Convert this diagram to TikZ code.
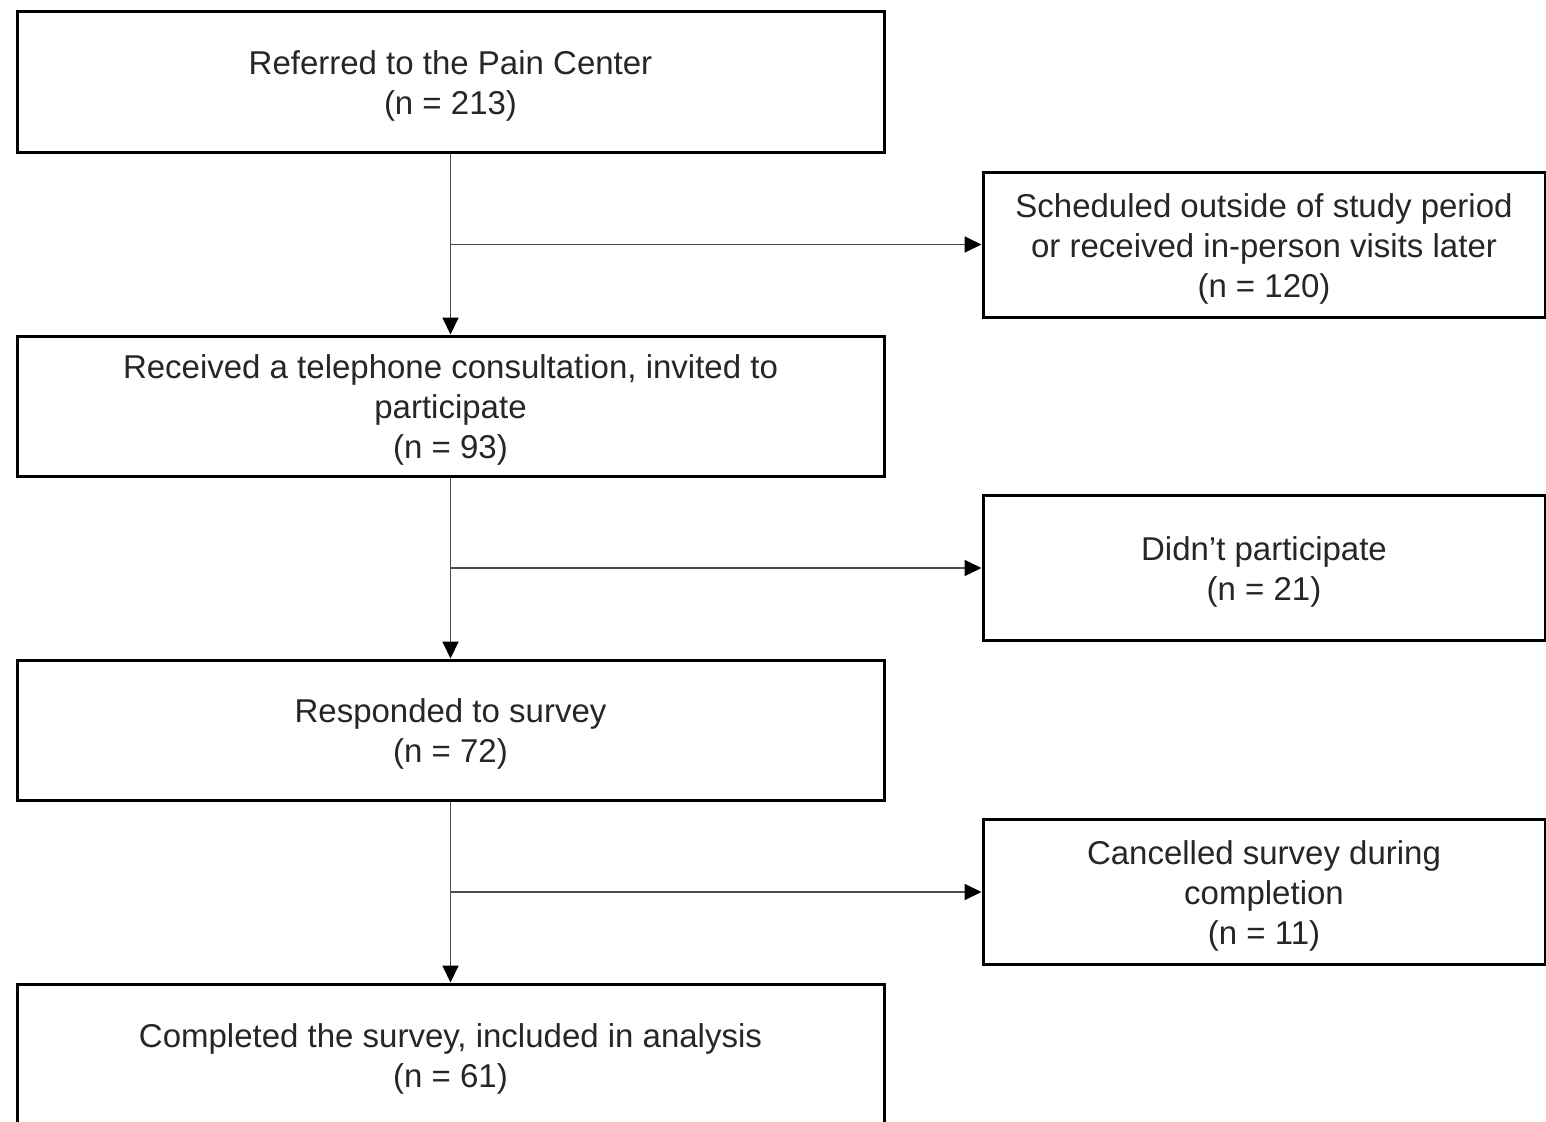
\documentclass[tikz,border=0pt]{standalone}
\usepackage{fontspec}
\setmainfont{Liberation Sans}
\usetikzlibrary{arrows.meta}
\newcommand{\lowtext}{\rule{0pt}{32pt}}

\begin{document}
\begin{tikzpicture}[x=1pt,y=-1pt,
		mainbox/.style={draw=black, line width=3pt, minimum width=867pt, minimum height=140pt, align=center, inner sep=0pt, font=\fontsize{33}{40}\selectfont, text=black!85},
		sidebox/.style={mainbox, minimum width=562pt, minimum height=145pt},
		flow/.style={draw=black!70, line width=1.8pt, -{Triangle[length=17pt,width=16pt,color=black]}}]
	\useasboundingbox (0,0) rectangle (1546,1121);
	% main column
	\node[mainbox] (referred) at (450.5,82) {\lowtext Referred to the Pain Center\\(n = 213)};
	\node[mainbox] (consult) at (450.5,406) {\lowtext Received a telephone consultation, invited to\\participate\\(n = 93)};
	\node[mainbox] (responded) at (450.5,730) {\lowtext Responded to survey\\(n = 72)};
	\node[mainbox, minimum height=142pt] (completed) at (450.5,1055) {\lowtext Completed the survey, included in analysis\\(n = 61)};
	% exclusions
	\node[sidebox] (outside) at (1264,244.5) {\lowtext Scheduled outside of study period\\or received in-person visits later\\(n = 120)};
	\node[sidebox] (declined) at (1264,568) {\lowtext Didn’t participate\\(n = 21)};
	\node[sidebox] (cancelled) at (1264,892) {\lowtext Cancelled survey during\\completion\\(n = 11)};
	% connectors
	\draw[flow] (referred) -- (consult);
	\draw[flow] (consult) -- (responded);
	\draw[flow] (responded) -- (completed);
	\draw[flow] (referred.south |- outside.west) -- (outside.west);
	\draw[flow] (consult.south |- declined.west) -- (declined.west);
	\draw[flow] (responded.south |- cancelled.west) -- (cancelled.west);
\end{tikzpicture}
\end{document}
